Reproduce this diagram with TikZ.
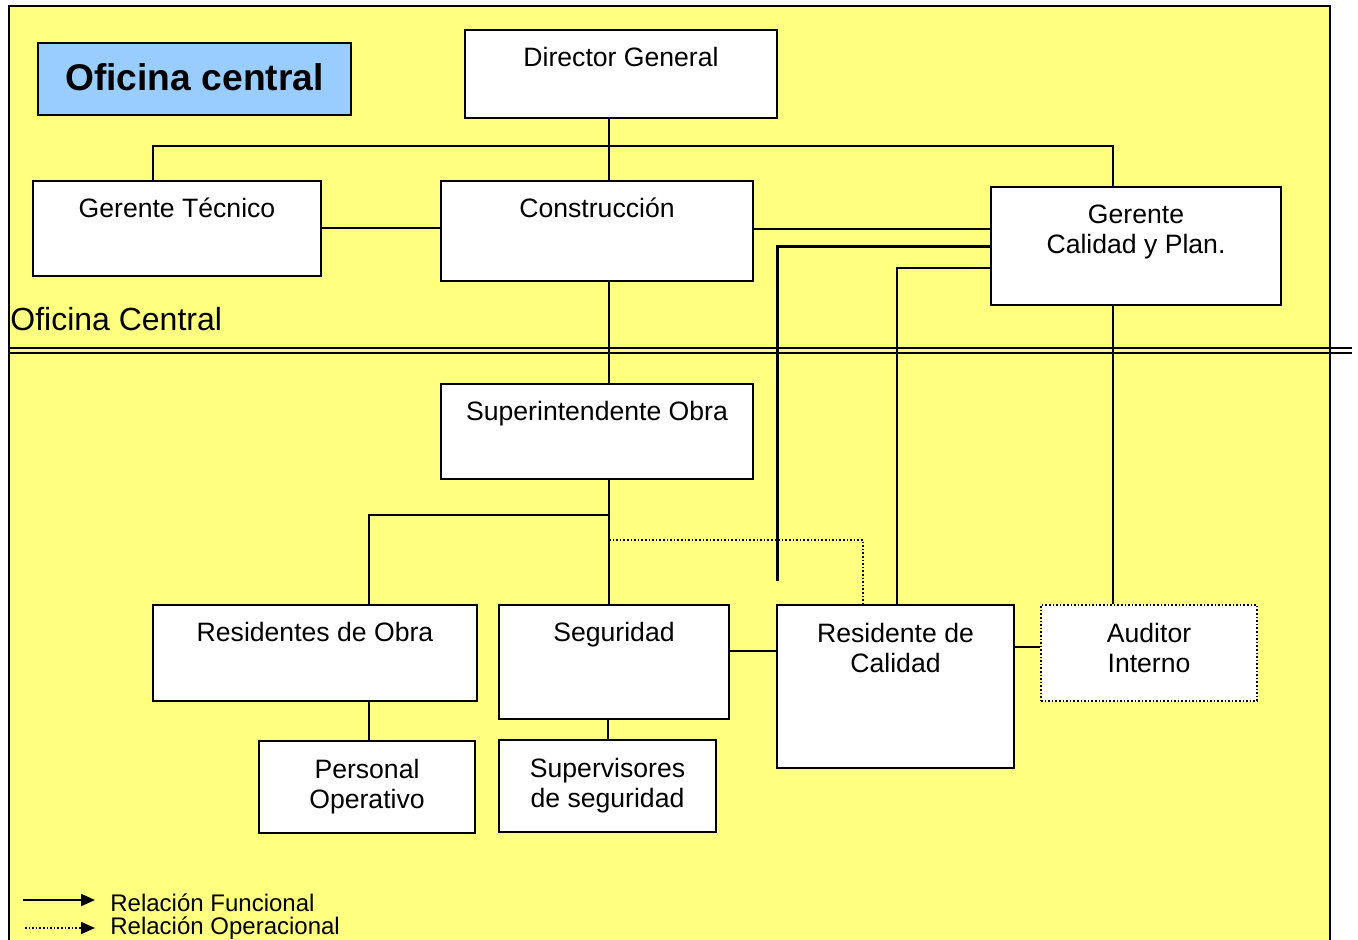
\documentclass[tikz,border=0pt]{standalone}
\usepackage{fontspec}
\setmainfont{Liberation Sans}
\usetikzlibrary{fit,arrows.meta}
\definecolor{amarillo}{HTML}{FFFF80}
\definecolor{celeste}{HTML}{99CCFF}
\tikzset{
  caja/.style={draw, fill=white, line width=1pt, inner sep=0pt},
  rotulo/.style={anchor=north, inner sep=0pt, align=center, yshift=-7pt,
    font=\fontsize{13.3}{15}\selectfont, execute at begin node=\vphantom{É}},
  rotulodos/.style={rotulo, yshift=-2.5pt},
  linea/.style={line width=1pt},
  punteada/.style={line width=0.8pt, densely dotted},
  leyenda/.style={anchor=west, inner sep=0pt, font=\fontsize{12}{14}\selectfont},
}
\begin{document}
\begin{tikzpicture}[x=0.5pt, y=-0.5pt]
  \useasboundingbox (0,0) rectangle (1358,939);
  \draw[fill=amarillo, line width=1pt] (9,6) rectangle (1330,960); %fondo
  \draw[linea] (9,348) -- (1352,348); %limite oficina
  \draw[linea] (9,353) -- (1352,353);
  \node[anchor=west, inner sep=0pt, font=\fontsize{16}{19}\selectfont] (zona) at (10,319) {Oficina Central};
  % cajas
  \node[caja, fill=celeste, fit={(38,43) (351,115)},
    label={[font=\bfseries\fontsize{18.6}{22}\selectfont, yshift=1pt]center:Oficina central}] (titulo) {};
  \node[caja, fit={(465,30) (777,118)}, label={[rotulo]north:Director General}] (director) {};
  \node[caja, fit={(33,181) (321,276)}, label={[rotulo]north:Gerente Técnico}] (gtecnico) {};
  \node[caja, fit={(441,181) (753,281)}, label={[rotulo]north:Construcción}] (construccion) {};
  \node[caja, fit={(991,187) (1281,305)}, label={[rotulodos]north:Gerente\\Calidad y Plan.}] (gcalidad) {};
  \node[caja, fit={(441,384) (753,479)}, label={[rotulo]north:Superintendente Obra}] (super) {};
  \node[caja, fit={(153,605) (477,701)}, label={[rotulo]north:Residentes de Obra}] (residentes) {};
  \node[caja, fit={(499,605) (729,719)}, label={[rotulo]north:Seguridad}] (seguridad) {};
  \node[caja, fit={(777,605) (1014,768)}, label={[rotulodos]north:Residente de\\Calidad}] (rcalidad) {};
  \node[caja, punteada, fit={(1041,605) (1257,701)}, label={[rotulodos]north:Auditor\\Interno}] (auditor) {};
  \node[caja, fit={(259,741) (475,833)}, label={[rotulodos]north:Personal\\Operativo}] (personal) {};
  \node[caja, fit={(499,740) (716,832)}, label={[rotulodos]north:Supervisores\\de seguridad}] (supervisores) {};
  % ejes de las lineas
  \coordinate (eje) at (609,146);
  \coordinate (cTec) at (153,146);
  \coordinate (cCal) at (1113,146);
  \coordinate (rama) at (609,515);
  \coordinate (rama2) at (609,540);
  \coordinate (libre) at (777,581);
  % conectores
  \draw[linea] (director.south -| eje) -- (construccion.north -| eje);
  \draw[linea] (gtecnico.north -| cTec) -- (cTec) -- (cCal) -- (gcalidad.north -| cCal);
  \draw[linea] (gtecnico.east |- 0,228) -- (construccion.west |- 0,228);
  \draw[linea] (construccion.east |- 0,229) -- (gcalidad.west |- 0,229);
  \draw[line width=1.5pt] (gcalidad.west |- 0,246) -| (libre);
  \draw[linea] (gcalidad.west |- 0,268) -| (rcalidad.north -| 897,0);
  \draw[linea] (gcalidad.south -| cCal) -- (auditor.north -| cCal);
  \draw[linea] (construccion.south -| eje) -- (super.north -| eje);
  \draw[linea] (super.south -| eje) -- (seguridad.north -| eje);
  \draw[linea] (rama) -| (residentes.north -| 369,0);
  \draw[punteada] (rama2) -| (rcalidad.north -| 863,0);
  \draw[linea] (residentes.south -| 369,0) -- (personal.north -| 369,0);
  \draw[linea] (supervisores.north |- seguridad.south) -- (supervisores.north);
  \draw[linea] (seguridad.east |- 0,651) -- (rcalidad.west |- 0,651);
  \draw[linea] (rcalidad.east |- 0,647) -- (auditor.west |- 0,647);
  % leyenda
  \node[leyenda] (funcional) at (110,903) {Relación Funcional};
  \node[leyenda] (operacional) at (110,928) {Relación Operacional};
  \coordinate (f0) at (23,900);
  \coordinate (f1) at (95,900);
  \coordinate (o0) at (25,928);
  \coordinate (o1) at (95,928);
  \draw[linea, -{Triangle[length=7pt, width=6pt]}] (f0) -- (f1);
  \draw[punteada, -{Triangle[length=7pt, width=6pt]}] (o0) -- (o1);
\end{tikzpicture}
\end{document}
